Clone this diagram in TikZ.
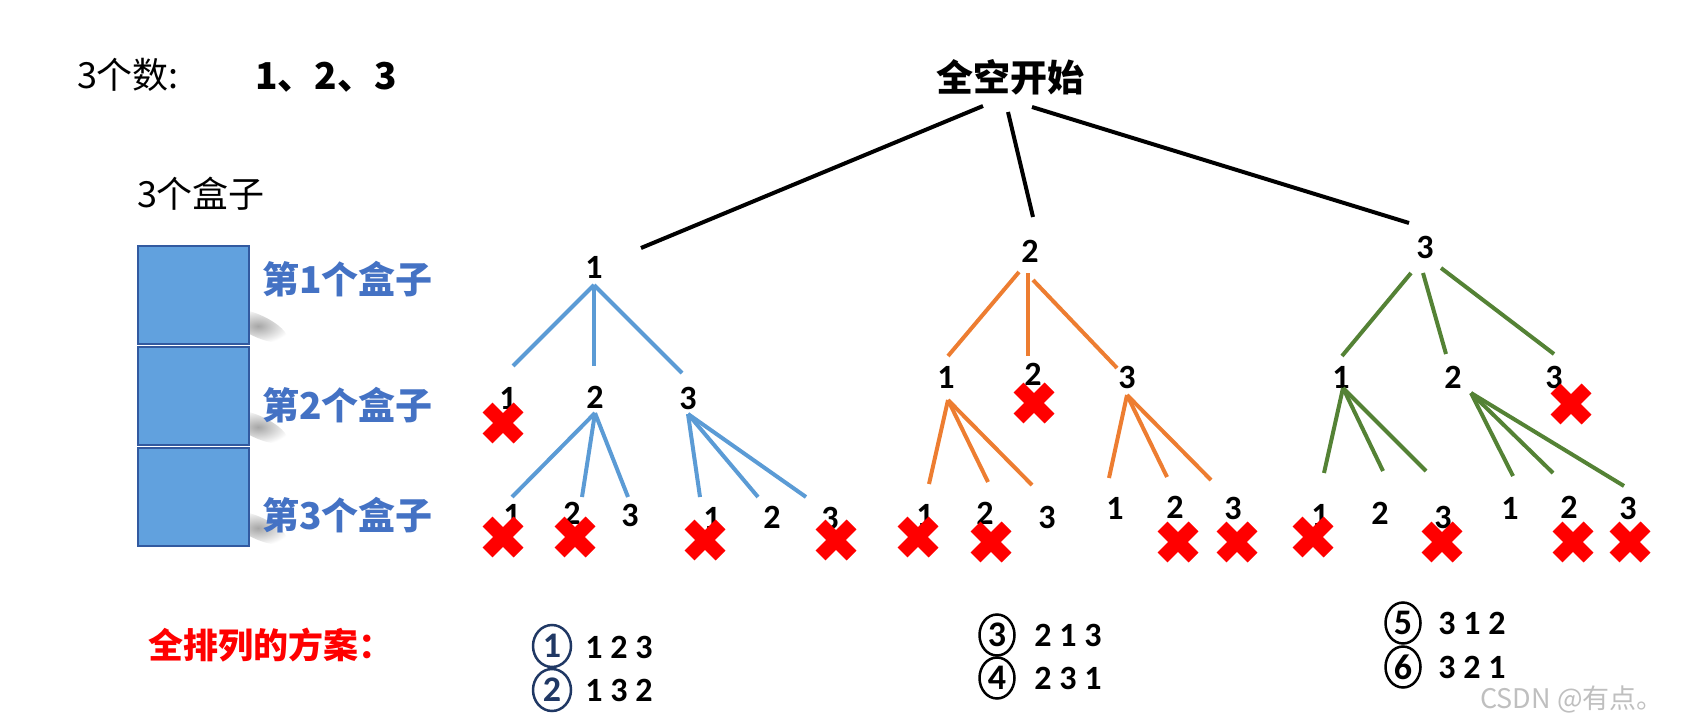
\documentclass[tikz,border=0pt]{standalone}
\usepackage{fontspec}
\setmainfont{Carlito}
\newfontfamily\cjk{Noto Sans CJK SC}
\usetikzlibrary{shapes.geometric,fadings}
\tikzfading[name=softblob, inner color=transparent!0, outer color=transparent!100]
\definecolor{lblue}{RGB}{91,155,213}
\definecolor{lorange}{RGB}{237,125,49}
\definecolor{lgreen}{RGB}{84,130,53}
\definecolor{boxfill}{RGB}{97,161,222}
\definecolor{boxline}{RGB}{50,90,160}
\definecolor{labblue}{RGB}{68,114,196}
\definecolor{navy}{RGB}{32,56,100}
\begin{document}
\begin{tikzpicture}[x=1pt,y=-1pt,
  num/.style={font=\bfseries\fontsize{34}{34}\selectfont, inner sep=0pt},
  cjkreg/.style={font=\cjk\fontsize{36}{40}\selectfont, inner sep=0pt},
  cjkbold/.style={font=\cjk\bfseries\fontsize{37}{40}\selectfont, inner sep=0pt},
  blk/.style={line width=4pt, black},
  bl/.style={line width=4pt, lblue},
  org/.style={line width=4pt, lorange},
  grn/.style={line width=4pt, lgreen},
  boxx/.style={draw=boxline, fill=boxfill, line width=2.5pt},
  boxshadow/.style={fill=black!35, path fading=softblob},
  circ/.style={ellipse, draw, line width=2.5pt, minimum width=38pt, minimum height=42pt, inner sep=0pt, font=\bfseries\fontsize{36}{36}\selectfont},
  redx/.pic={\draw[red, line width=14pt] (-15.5,-15.5) -- (15.5,15.5) (-15.5,15.5) -- (15.5,-15.5);}
]
\useasboundingbox (0,0) rectangle (1691,722);

% ---- left side ----
\node[cjkreg] (ns) at (128,75) {3个数:};
\node[cjkbold] (nums) at (326,77) {1、2、3};
\node[cjkreg] (boxes) at (201,194) {3个盒子};

\foreach \yy in {326,427,528}
  \path[boxshadow] (258,\yy) ellipse [x radius=32, y radius=11, rotate=-25];
\path[boxx] (138,246) rectangle (249,344);
\path[boxx] (138,347) rectangle (249,445);
\path[boxx] (138,448) rectangle (249,546);
\node[cjkbold, text=labblue, anchor=west] (lab1) at (262,279) {第1个盒子};
\node[cjkbold, text=labblue, anchor=west] (lab2) at (262,405) {第2个盒子};
\node[cjkbold, text=labblue, anchor=west] (lab3) at (262,515) {第3个盒子};

% ---- tree nodes ----
\node[cjkbold] (root) at (1010,77) {全空开始};
\node[num] (a) at (594,267) {1};
\node[num] (b) at (1030,251) {2};
\node[num] (c) at (1425,247) {3};

\node[num] (a1) at (508,398) {1};
\node[num] (a2) at (595,397) {2};
\node[num] (a3) at (688,398) {3};
\node[num] (b1) at (946,377) {1};
\node[num] (b2) at (1033,374) {2};
\node[num] (b3) at (1127,377) {3};
\node[num] (c1) at (1341,377) {1};
\node[num] (c2) at (1453,377) {2};
\node[num] (c3) at (1554,377) {3};

\node[num] (a21) at (512,515) {1};
\node[num] (a22) at (572,513) {2};
\node[num] (a23) at (630,515) {3};
\node[num] (a31) at (712,518) {1};
\node[num] (a32) at (772,517) {2};
\node[num] (a33) at (830,518) {3};
\node[num] (b11) at (925,515) {1};
\node[num] (b12) at (985,513) {2};
\node[num] (b13) at (1047,517) {3};
\node[num] (b31) at (1115,508) {1};
\node[num] (b32) at (1175,507) {2};
\node[num] (b33) at (1233,508) {3};
\node[num] (c11) at (1320,515) {1};
\node[num] (c12) at (1380,513) {2};
\node[num] (c13) at (1443,517) {3};
\node[num] (c21) at (1510,508) {1};
\node[num] (c22) at (1569,507) {2};
\node[num] (c23) at (1628,508) {3};

% ---- connector end points ----
\coordinate (rs1) at (983,106);  \coordinate (a-in) at (641,248);
\coordinate (rs2) at (1008,112); \coordinate (b-in) at (1033,217);
\coordinate (rs3) at (1032,107); \coordinate (c-in) at (1409,223);

\coordinate (a-out) at (594,285);
\coordinate (a1-in) at (513,366); \coordinate (a2-in) at (594,366); \coordinate (a3-in) at (682,373);
\coordinate (a2-out) at (595,413);
\coordinate (a21-in) at (512,497); \coordinate (a22-in) at (582,497); \coordinate (a23-in) at (628,497);
\coordinate (a3-out) at (688,414);
\coordinate (a31-in) at (700,497); \coordinate (a32-in) at (758,497); \coordinate (a33-in) at (806,497);

\coordinate (b-out1) at (1019,272); \coordinate (b-out2) at (1028,273); \coordinate (b-out3) at (1033,280);
\coordinate (b1-in) at (948,356); \coordinate (b2-in) at (1028,356); \coordinate (b3-in) at (1117,368);
\coordinate (b1-out) at (948,400);
\coordinate (b11-in) at (929,484); \coordinate (b12-in) at (988,482); \coordinate (b13-in) at (1032,485);
\coordinate (b3-out) at (1127,395);
\coordinate (b31-in) at (1109,478); \coordinate (b32-in) at (1167,477); \coordinate (b33-in) at (1211,480);

\coordinate (c-out1) at (1411,273); \coordinate (c-out2) at (1423,273); \coordinate (c-out3) at (1441,268);
\coordinate (c1-in) at (1342,356); \coordinate (c2-in) at (1446,354); \coordinate (c3-in) at (1554,354);
\coordinate (c1-out) at (1343,388);
\coordinate (c11-in) at (1324,473); \coordinate (c12-in) at (1383,471); \coordinate (c13-in) at (1426,471);
\coordinate (c2-out) at (1471,393);
\coordinate (c21-in) at (1513,476); \coordinate (c22-in) at (1553,473); \coordinate (c23-in) at (1624,486);

% ---- connectors ----
\draw[blk] (rs1) -- (a-in);
\draw[blk] (rs2) -- (b-in);
\draw[blk] (rs3) -- (c-in);

\draw[bl] (a-out) -- (a1-in);
\draw[bl] (a-out) -- (a2-in);
\draw[bl] (a-out) -- (a3-in);
\draw[bl] (a2-out) -- (a21-in);
\draw[bl] (a2-out) -- (a22-in);
\draw[bl] (a2-out) -- (a23-in);
\draw[bl] (a3-out) -- (a31-in);
\draw[bl] (a3-out) -- (a32-in);
\draw[bl] (a3-out) -- (a33-in);

\draw[org] (b-out1) -- (b1-in);
\draw[org] (b-out2) -- (b2-in);
\draw[org] (b-out3) -- (b3-in);
\draw[org] (b1-out) -- (b11-in);
\draw[org] (b1-out) -- (b12-in);
\draw[org] (b1-out) -- (b13-in);
\draw[org] (b3-out) -- (b31-in);
\draw[org] (b3-out) -- (b32-in);
\draw[org] (b3-out) -- (b33-in);

\draw[grn] (c-out1) -- (c1-in);
\draw[grn] (c-out2) -- (c2-in);
\draw[grn] (c-out3) -- (c3-in);
\draw[grn] (c1-out) -- (c11-in);
\draw[grn] (c1-out) -- (c12-in);
\draw[grn] (c1-out) -- (c13-in);
\draw[grn] (c2-out) -- (c21-in);
\draw[grn] (c2-out) -- (c22-in);
\draw[grn] (c2-out) -- (c23-in);

% ---- crosses ----
\foreach \p in {(503,423),(503,537),(575,537),(705,540),(836,540),
                (1034,403),(918,537),(991,542),(1178,542),(1237,542),
                (1571,404),(1313,537),(1442,542),(1573,542),(1630,542)}
  \path \p pic {redx};

% ---- solutions ----
\node[cjkbold, text=red, anchor=west, font=\cjk\bfseries\fontsize{35}{40}\selectfont] (sol) at (148,645) {全排列的方案：};
\node[circ, draw=navy, text=navy] (s1) at (552,646) {1};
\node[circ, draw=navy, text=navy] (s2) at (552,690) {2};
\node[circ, minimum width=35pt, minimum height=41pt] (s3) at (997,635) {3};
\node[circ, minimum width=35pt, minimum height=41pt] (s4) at (997,678) {4};
\node[circ, minimum width=35pt, minimum height=41pt] (s5) at (1403,623) {5};
\node[circ, minimum width=35pt, minimum height=41pt] (s6) at (1403,667) {6};
\node[num] (p1) at (619,647) {1 2 3};
\node[num] (p2) at (619,690) {1 3 2};
\node[num] (p3) at (1068,635) {2 1 3};
\node[num] (p4) at (1068,678) {2 3 1};
\node[num] (p5) at (1472,623) {3 1 2};
\node[num] (p6) at (1472,667) {3 2 1};

\node[font=\cjk\fontsize{27}{30}\selectfont, text=black!25, inner sep=0pt] (wm) at (1572,699) {CSDN @有点。};
\end{tikzpicture}
\end{document}
